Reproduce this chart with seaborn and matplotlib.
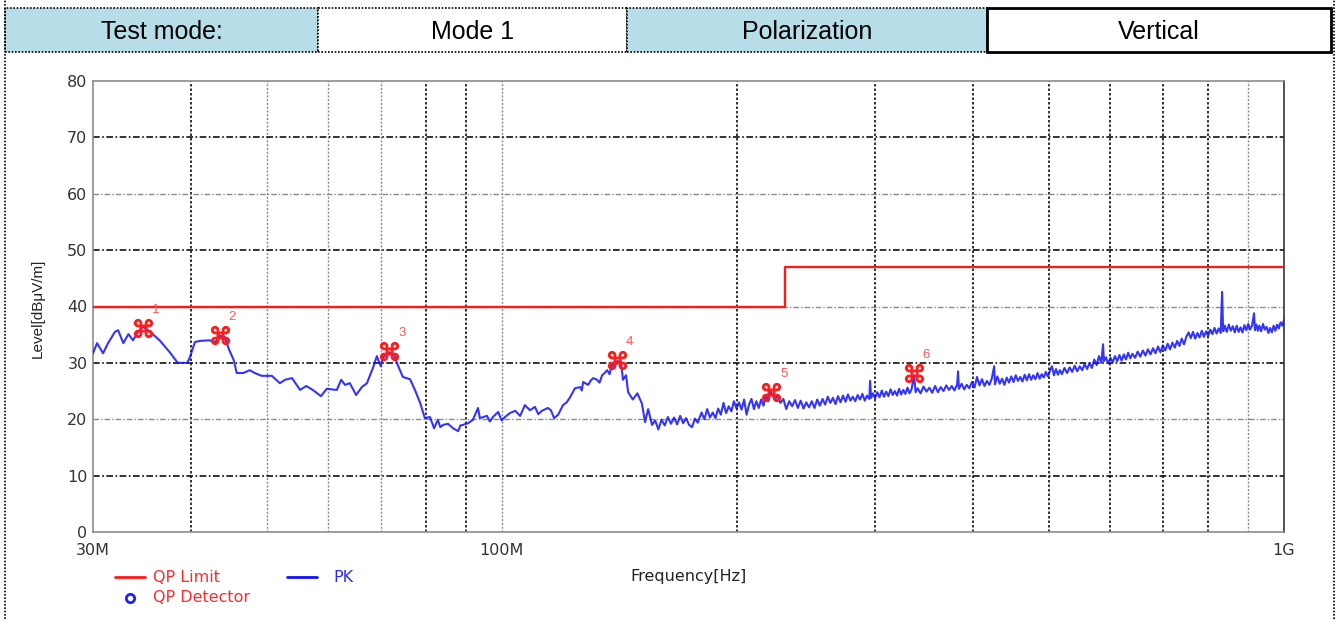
import matplotlib
matplotlib.use("Agg")
import matplotlib.pyplot as plt
import seaborn as sns
import pandas as pd
from matplotlib.lines import Line2D
from matplotlib.patches import Rectangle

# ---------------- data ----------------
pk_freq_mhz = [
    30.0, 30.36, 30.9, 31.36, 32.0, 32.3, 32.8, 33.3, 33.75, 34.25, 34.76, 35.5, 36.5, 37.6,
    38.5, 39.6, 39.9, 40.5, 41.1, 42.3, 43.0, 43.6, 44.2, 44.8, 45.4, 45.8, 46.7, 47.6, 48.3,
    49.3, 50.8, 52.0, 52.8, 53.9, 55.2, 56.2, 57.3, 58.7, 59.7, 61.5, 62.3, 63.0, 63.9, 65.1,
    66.2, 67.2, 68.4, 69.2, 70.0, 70.4, 71.7, 72.8, 73.6, 74.7, 76.3, 77.4, 78.6, 79.7, 80.9,
    81.9, 82.8, 83.4, 84.1, 85.3, 86.6, 87.9, 88.5, 89.2, 90.5, 91.8, 93.2, 93.7, 95.7, 96.5,
    97.4, 98.9, 99.9, 100.9, 102.4, 104.0, 105.5, 107.0, 108.6, 110.2, 111.3, 112.5, 114.5,
    115.5, 116.6, 118.0, 119.7, 121.0, 122.2, 124.0, 125.9, 126.5, 127.0, 128.9, 129.8, 130.8,
    132.3, 133.3, 134.3, 135.3, 136.3, 137.3, 138.3, 139.3, 140.3, 142.0, 142.8, 144.1,
    145, 147, 149, 151, 152.4, 153.8, 155.6, 157, 158.5, 160, 161.5, 163, 164.5, 166, 167.5,
    169, 170.5, 172, 173.5, 175, 176.5, 178, 180, 181.5, 183, 184.5, 186, 187.5, 189, 190.5,
    192, 193.5, 195, 196.5, 198, 199.5, 201, 202.5, 204, 205.5, 207, 208.5, 210, 211.5, 213,
    214.5, 216, 217.5, 219, 220.5, 222, 223.5, 225, 227, 229, 231, 233, 235, 237, 239, 241,
    243, 245, 247, 249, 251, 253, 255, 257, 259, 261, 263, 265, 267, 269, 271, 273, 275, 277,
    279, 281, 283, 285, 287, 289, 291, 293, 295, 295.6, 296.5, 298, 300, 302, 304, 306, 308,
    310, 312, 314, 316, 318, 320, 322, 324, 326, 328, 330, 332, 334, 336.5, 338, 340, 343,
    346, 349, 352, 355, 358, 361, 364, 367, 370, 373, 376, 379, 382, 383, 384, 387, 390, 393,
    396, 399, 402, 405, 408, 411, 414, 417, 420, 423, 426, 427, 430, 433, 436, 439, 442, 445,
    448, 451, 454, 457, 460, 463, 466, 469, 472, 475, 478, 481, 484, 487, 490, 493, 496, 499,
    502, 505, 508, 511, 514, 517, 520, 524, 528, 532, 536, 540, 544, 548, 552, 556, 560, 564,
    568, 572, 576, 580, 584, 587, 588.5, 592, 596, 600, 604, 608, 612, 616, 620, 624, 628,
    632, 636, 640, 645, 650, 655, 660, 665, 670, 675, 680, 685, 690, 695, 700, 705, 710, 715,
    720, 725, 730, 735, 740, 745, 750, 755, 760, 765, 770, 775, 780, 785, 790, 795, 800, 805,
    810, 815, 820, 825, 830, 833.4, 836, 840, 845, 850, 855, 860, 865, 870, 875, 880, 885,
    890, 895, 900, 905, 910, 915.6, 918, 922, 926, 930, 935, 940, 945, 950, 955, 960, 965,
    970, 975, 980, 985, 990, 995, 1000,
]
pk_level = [
    31.7, 33.5, 31.7, 33.5, 35.5, 35.8, 33.5, 35.1, 34.0, 35.5, 36.4, 35.5, 34.0, 31.9,
    30.0, 30.0, 31.0, 33.7, 33.9, 34.0, 33.7, 34.8, 34.6, 32.3, 30.5, 28.2, 28.2, 28.7, 28.2,
    27.7, 27.7, 26.4, 27.0, 27.3, 25.2, 25.9, 25.2, 24.1, 25.4, 25.2, 27.0, 26.1, 26.4, 24.3,
    25.7, 26.4, 29.1, 31.2, 29.4, 30.9, 31.9, 31.4, 29.6, 27.5, 27.1, 25.2, 22.9, 20.2, 20.4,
    18.4, 19.9, 18.6, 19.0, 19.2, 18.4, 17.9, 18.9, 19.0, 19.3, 19.9, 22.0, 20.2, 20.6, 19.6,
    20.4, 21.3, 19.8, 20.4, 21.1, 21.5, 20.6, 22.5, 21.6, 22.2, 20.9, 21.5, 22.0,
    21.6, 20.2, 20.8, 22.5, 23.0, 23.9, 25.5, 25.7, 25.1, 26.6, 26.1, 26.8, 27.3,
    27.0, 26.5, 27.8, 28.2, 28.7, 28.0, 29.8, 29.2, 30.3, 30.2, 27.0, 27.8,
    24.8, 23.5, 24.6, 22.8, 19.5, 21.8, 19.0, 19.8, 18.2, 19.9, 18.9, 20.4, 19.2, 20.3, 19.1,
    20.6, 19.3, 20.2, 19.0, 18.6, 20.1, 19.4, 21.2, 20.0, 21.8, 20.3, 21.2, 20.2, 21.9, 20.8,
    22.9, 21.1, 22.3, 21.4, 23.2, 21.9, 23.0, 21.7, 23.5, 20.8, 22.6, 23.6, 21.8, 23.2, 22.0,
    23.5, 22.4, 24.3, 23.2, 25.0, 24.2, 23.6, 24.1, 22.9, 23.6, 21.8, 23.2, 22.3, 23.4, 22.0, 23.3,
    21.9, 23.0, 22.1, 23.2, 22.0, 23.5, 22.4, 23.6, 22.6, 24.0, 22.9, 23.8, 22.7, 24.1, 23.0, 24.2, 23.1, 24.4,
    23.3, 24.0, 23.2, 24.3, 23.5, 24.5, 23.3, 24.2, 23.6, 26.8, 23.8, 24.6, 23.7, 24.8, 23.9, 25.1, 24.0,
    24.9, 24.1, 25.3, 24.3, 25.0, 24.2, 25.4, 24.4, 25.2, 24.5, 25.6, 24.6, 25.3, 27.8, 24.8, 25.5, 24.6,
    25.8, 24.9, 25.6, 24.7, 25.9, 24.8, 25.7, 25.0, 26.0, 25.2, 25.9, 25.1, 26.2, 28.5, 25.4, 26.3, 25.3, 26.1,
    25.5, 26.6, 25.6, 27.5, 26.0, 27.1, 25.9, 26.8, 26.1, 27.2, 29.4, 26.2, 27.6, 26.3, 27.2, 26.1, 27.4, 26.5,
    27.6, 26.6, 27.8, 26.8, 27.5, 26.7, 27.9, 26.9, 28.0, 27.0, 27.8, 27.1, 28.2, 27.2, 28.0, 27.4, 28.4, 27.6,
    28.6, 29.4, 27.8, 28.9, 27.9, 28.7, 28.0, 29.1, 28.2, 29.2, 28.4, 29.5, 28.5, 29.4, 28.7, 29.8, 28.9, 30.0,
    29.1, 30.6, 29.6, 31.2, 30.0, 33.3, 30.3, 31.0, 29.9, 30.9, 30.1, 31.2, 30.3, 31.4, 30.4, 31.5, 30.6,
    31.8, 30.8, 31.6, 30.9, 32.0, 31.1, 32.2, 31.3, 32.4, 31.5, 32.6, 31.7, 32.9, 31.9, 33.1, 32.2, 33.4, 32.4,
    33.6, 32.7, 33.9, 33.0, 34.3, 33.3, 34.6, 35.4, 34.4, 35.5, 34.3, 35.3, 34.5, 35.7, 34.6, 35.6, 34.8, 35.9,
    35.1, 36.2, 35.2, 36.1, 35.3, 42.6, 35.6, 36.6, 35.5, 36.8, 35.7, 36.5, 35.4, 36.6, 35.5, 36.3, 35.4,
    36.7, 35.8, 36.9, 35.9, 36.6, 38.8, 35.8, 36.8, 35.7, 36.6, 35.6, 36.9, 35.9, 36.4, 35.3, 36.2, 35.4,
    36.6, 35.7, 36.8, 36.1, 37.2, 36.6, 37.6,
]
limit_freq_mhz = [30, 230, 230, 1000]
limit_level = [40, 40, 47, 47]
marker_freq_mhz = [34.8, 43.6, 71.8, 140.3, 220.9, 336.0]
marker_level = [36.2, 34.9, 32.1, 30.5, 24.8, 28.2]
marker_ids = ["1", "2", "3", "4", "5", "6"]
x_tick_freq = [30, 100, 1000]
x_tick_labels = ["30M", "100M", "1G"]
y_ticks = [0, 10, 20, 30, 40, 50, 60, 70, 80]
grid_dark_x = [40, 80, 90, 200, 300, 400, 500, 600, 700, 800]
grid_grey_x = [50, 60, 70, 100, 900]
grid_dark_y = [10, 30, 50, 70]
grid_grey_y = [20, 40, 60]
header_texts = ["Test mode:", "Mode 1", "Polarization", "Vertical"]
header_fill = ["#b7dde8", "white", "#b7dde8", "white"]

# ---------------- figure ----------------
sns.set_style("white")
plt.rcParams["font.family"] = ["DejaVu Sans"]

W, H = 1338, 619
fig = plt.figure(figsize=(W / 100, H / 100), dpi=100)

def fx(px):
    return px / W

def fy(py):
    return 1 - py / H

ax = fig.add_axes([fx(93), fy(532), fx(1284) - fx(93), fy(81) - fy(532)])
ax.set_xscale("log")
ax.set_xlim(30, 1000)
ax.set_ylim(0, 80)

# grid
for v in grid_grey_x:
    ax.axvline(v, color="#8a8a8a", lw=1.0, ls=(0, (1.5, 1.2)), zorder=1)
for v in grid_dark_x:
    ax.axvline(v, color="#111111", lw=1.2, ls=(0, (1.5, 1.2)), zorder=1)
for v in grid_grey_y:
    ax.axhline(v, color="#8a8a8a", lw=1.0, ls=(0, (4, 1.5, 1, 1.5)), zorder=1)
for v in grid_dark_y:
    ax.axhline(v, color="#111111", lw=1.2, ls=(0, (4, 1.5, 1, 1.5)), zorder=1)

pk_df = pd.DataFrame({"freq": pk_freq_mhz, "level": pk_level})
lim_df = pd.DataFrame({"freq": limit_freq_mhz, "level": limit_level})
mk_df = pd.DataFrame({"freq": marker_freq_mhz, "level": marker_level})

sns.lineplot(data=lim_df, x="freq", y="level", ax=ax, color="#ff1a1a", lw=1.7,
             sort=False, estimator=None, zorder=3)
sns.lineplot(data=pk_df, x="freq", y="level", ax=ax, color="#1010ff", lw=1.5,
             sort=False, estimator=None, zorder=4, alpha=0.85)
sns.scatterplot(data=mk_df, x="freq", y="level", ax=ax, marker="$\u2318$", s=170,
                color="#ff1a1a", edgecolor="#ff1a1a", linewidth=0.8, zorder=5)
for f, l, t in zip(marker_freq_mhz, marker_level, marker_ids):
    ax.annotate(t, (f, l), xytext=(9, 13), textcoords="offset points",
                color="#ff5555", fontsize=9.5, ha="center", va="center",
                family="Liberation Sans")

ax.set_xticks(x_tick_freq)
ax.set_xticklabels(x_tick_labels)
ax.xaxis.set_minor_locator(matplotlib.ticker.NullLocator())
ax.set_yticks(y_ticks)
ax.tick_params(axis="both", length=0, labelsize=11.5, colors="#333333")
ax.tick_params(axis="x", pad=8)
ax.tick_params(axis="y", pad=4)
ax.set_xlabel("")
ax.set_ylabel("")
for s in ax.spines.values():
    s.set_color("#8c8c8c")
    s.set_linewidth(1.2)
ax.spines["right"].set_color("#333333")

# axis titles
fig.text(fx(38), fy(308), "Level[dB\u03bcV/m]", rotation=90, ha="center", va="center",
         fontsize=11, family="Liberation Sans", color="#222222")
fig.text(fx(688), fy(577), "Frequency[Hz]", ha="center", va="center",
         fontsize=11.5, color="#222222")

# legend (manual, as in the original)
fig.add_artist(Line2D([fx(115), fx(145)], [fy(577), fy(577)], color="#ff1a1a", lw=2))
fig.text(fx(153), fy(577), "QP Limit", color="#ff2a2a", fontsize=11.5, va="center")
fig.add_artist(Line2D([fx(287), fx(317)], [fy(577), fy(577)], color="#1010ff", lw=2))
fig.text(fx(333), fy(577), "PK", color="#2a2aff", fontsize=11.5, va="center")
fig.add_artist(Line2D([fx(130)], [fy(598)], marker="o", markersize=6, mfc="none",
                      mec="#2020ff", mew=2, lw=0))
fig.text(fx(153), fy(598), "QP Detector", color="#ff2a2a", fontsize=11.5, va="center")

# header table
cell_x = [5, 318, 627, 987, 1331]
top, bot = 8, 52
for i, (txt, fill) in enumerate(zip(header_texts, header_fill)):
    x0, x1 = cell_x[i], cell_x[i + 1]
    solid = i == 3
    rect = Rectangle((fx(x0), fy(bot)), fx(x1) - fx(x0), fy(top) - fy(bot),
                     transform=fig.transFigure, facecolor=fill,
                     edgecolor="black", lw=2.0 if solid else 1.2,
                     ls="-" if solid else (0, (1, 1)), zorder=0)
    fig.add_artist(rect)
    fig.text(fx((x0 + x1) / 2), fy((top + bot) / 2 + 2), txt, ha="center", va="center",
             fontsize=18, family="Liberation Sans", color="black")

# page borders
fig.add_artist(Line2D([fx(5), fx(5)], [0, 1], color="black", lw=1.2, ls=(0, (1, 1))))
fig.add_artist(Line2D([fx(1334), fx(1334)], [0, 1], color="black", lw=1.2, ls=(0, (1, 1))))

fig.savefig("out.png", dpi=100)
